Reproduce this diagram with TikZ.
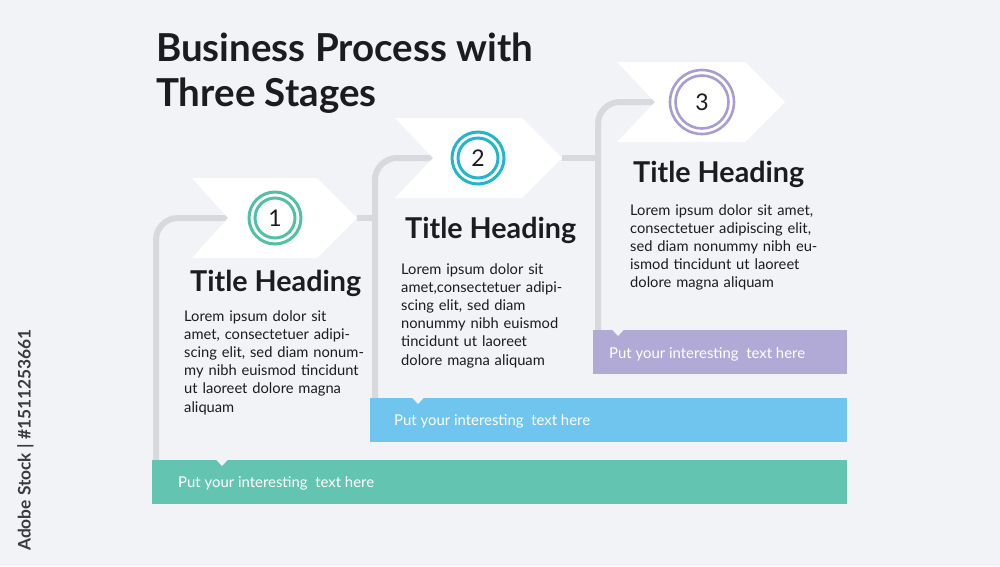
\documentclass[tikz,border=0pt]{standalone}
\usepackage{fontspec}
\setmainfont{Lato}
\definecolor{bgc}{HTML}{F2F3F7}
\definecolor{linec}{HTML}{D8D9DC}
\definecolor{darktxt}{HTML}{1C1C1E}
\definecolor{ringA}{HTML}{52C0A4}
\definecolor{ringB}{HTML}{22B6C9}
\definecolor{ringC}{HTML}{A99CD3}
\definecolor{barA}{HTML}{63C5B1}
\definecolor{barB}{HTML}{70C5EF}
\definecolor{barC}{HTML}{B1A9D6}
\definecolor{wmark}{HTML}{3A3A3C}
\tikzset{
  flow/.style={draw=linec, line width=6pt, rounded corners=22pt},
  chev/.style={fill=white, draw=none},
  ringouter/.style={circle, draw=#1, line width=3pt, minimum size=52pt, inner sep=0pt, fill=white},
  ringinner/.style={circle, draw=#1, line width=3pt, minimum size=40pt, inner sep=0pt, font=\fontsize{23}{23}\selectfont, text=darktxt},
  heading/.style={anchor=base west, inner sep=0pt, font=\bfseries\fontsize{28.7}{28.7}\selectfont, text=darktxt},
  body/.style={anchor=base west, inner sep=0pt, text width=#1, align=left, font=\fontsize{14.7}{18.2}\selectfont, text=darktxt},
  bartext/.style={anchor=base west, inner sep=0pt, font=\fontsize{14.9}{14.9}\selectfont, text=white},
  notch/.style={fill=bgc, draw=none},
}
\begin{document}
\begin{tikzpicture}[x=1pt,y=-1pt]
\fill[bgc] (0,0) rectangle (1000,566);
\useasboundingbox (0,0) rectangle (1000,566);

% title
\node[anchor=base west, inner sep=0pt, align=left, font=\bfseries\fontsize{38.5}{45}\selectfont, text=darktxt] (title) at (156,106) {Business Process with\\Three Stages};

% named points
\coordinate (n1) at (230,218);
\coordinate (t1) at (357,218);
\coordinate (n2) at (435,158);
\coordinate (t2) at (562,158);
\coordinate (n3) at (655,102);
\coordinate (b1) at (156,462);
\coordinate (b2) at (375,400);
\coordinate (b3) at (598,332);

% connector lines
\draw[flow] (n1) -| (b1);
\draw[flow] (n2) -| (b2);
\draw[flow] (n3) -| (b3);
\draw[draw=linec, line width=6pt] (t1) -- (b2 |- t1);
\draw[draw=linec, line width=6pt] (t2) -- (b3 |- t2);

% chevrons
\fill[chev] (192,178) -- (317,178) -- (357,218) -- (317,258) -- (192,258) -- (228,218) -- cycle;
\fill[chev] (395,118) -- (522,118) -- (562,158) -- (522,198) -- (395,198) -- (433,158) -- cycle;
\fill[chev] (617,62) -- (745,62) -- (785,102) -- (745,142) -- (617,142) -- (655,102) -- cycle;

% circles
\node[ringouter=ringA] (c1o) at (275,218) {};
\node[ringinner=ringA] (c1) at (275,218) {1};
\node[ringouter=ringB] (c2o) at (478,158) {};
\node[ringinner=ringB] (c2) at (478,158) {2};
\node[ringouter=ringC, minimum size=64pt, line width=2.6pt] (c3o) at (702,102) {};
\node[ringinner=ringC, minimum size=53pt, line width=2.6pt] (c3) at (702,102) {3};

% headings
\node[heading] (h1) at (190,291) {Title Heading};
\node[heading] (h2) at (405,238) {Title Heading};
\node[heading] (h3) at (633,182) {Title Heading};

% body texts
\node[body=200pt] (p1) at (184,321) {Lorem ipsum dolor sit\\amet, consectetuer adipi-\\scing elit, sed diam nonum-\\my nibh euismod tincidunt\\ut laoreet dolore magna\\aliquam};
\node[body=200pt] (p2) at (401,274) {Lorem ipsum dolor sit\\amet,consectetuer adipi-\\scing elit, sed diam\\nonummy nibh euismod\\tincidunt ut laoreet\\dolore magna aliquam};
\node[body=220pt] (p3) at (630,215) {Lorem ipsum dolor sit amet,\\consectetuer adipiscing elit,\\sed diam nonummy nibh eu-\\ismod tincidunt ut laoreet\\dolore magna aliquam};

% bars
\fill[barA] (152,460) rectangle (847,504);
\fill[barB] (370,398) rectangle (847,442);
\fill[barC] (593,330) rectangle (847,374);
\fill[notch] (216,459.5) -- (228,459.5) -- (222,466) -- cycle;
\fill[notch] (412,397.5) -- (424,397.5) -- (418,404) -- cycle;
\fill[notch] (612,329.5) -- (624,329.5) -- (618,336) -- cycle;
\node[bartext] (s1) at (178,487) {Put your interesting\ \ text here};
\node[bartext] (s2) at (394,425) {Put your interesting\ \ text here};
\node[bartext] (s3) at (609,358) {Put your interesting\ \ text here};

% vertical stock label
\node[anchor=base west, inner sep=0pt, rotate=90, font=\bfseries\fontsize{17.3}{17.3}\selectfont, text=wmark] (wm) at (30.5,551) {Adobe Stock | \#1511253661};
\end{tikzpicture}
\end{document}
